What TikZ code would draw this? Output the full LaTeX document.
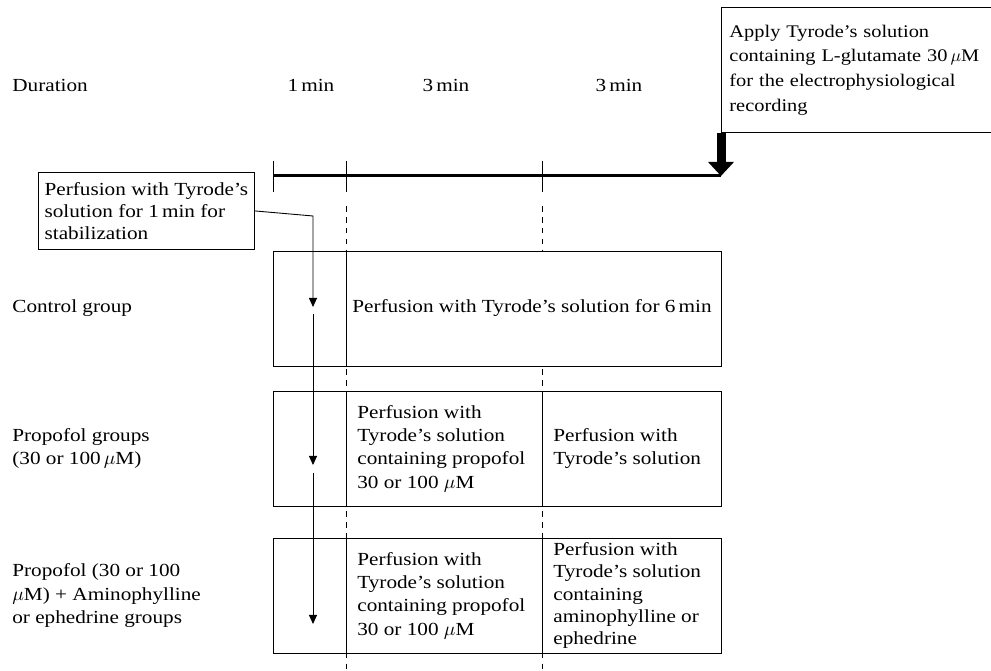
\documentclass[tikz,border=0pt]{standalone}
\usepackage{fontspec}
\setmainfont{Liberation Serif}[FakeStretch=1.15]
\usepackage{tikz}
\usetikzlibrary{arrows.meta, calc}

\tikzset{
 rowbox/.style={draw, fill=white, line width=0.5pt, minimum width=8.96cm, minimum height=2.3cm, inner sep=0pt},
 celltext/.style={anchor=west, align=left, inner sep=0.1cm},
 grouptext/.style={anchor=west, align=left, inner sep=0.1cm},
 notebox/.style={draw, line width=0.5pt, align=left, anchor=north west},
 divider/.style={line width=0.5pt},
 gridline/.style={line width=0.5pt, dash pattern=on 3.2pt off 3pt},
 pointer/.style={line width=0.5pt, -{Triangle[width=0.16cm, length=0.18cm]}}
}

\begin{document}
\begin{tikzpicture}[x=0.02cm, y=-0.02cm, font=\fontsize{10.5}{13.3}\selectfont]
 \clip (0,0) rectangle (991,671);

 % time axis
 \coordinate (T0) at (273,176);
 \coordinate (T1) at (346,176);
 \coordinate (T2) at (542,176);
 \coordinate (T3) at (721,176);

 \node[grouptext] (dur) at (7,85) {Duration};
 \node (min1) at (311,85) {1\,min};
 \node (min2) at (446,85) {3\,min};
 \node (min3) at (619,85) {3\,min};

 \draw[gridline] ($(T1)+(0,30)$) -- (346,671);
 \draw[gridline] ($(T2)+(0,30)$) -- (542,671);

 \draw[line width=1.7pt] (T0) -- (T3);
 \foreach \t in {T0,T1,T2}
  \draw[divider] ($(\t)+(0,-15)$) -- ($(\t)+(0,16)$);

 % group rows
 \node[rowbox] (ctrl) at (497,308.5) {};
 \node[rowbox] (prop) at (497,448.5) {};
 \node[rowbox] (amin) at (497,595.5) {};

 \foreach \r/\c in {ctrl/T1, prop/T1, prop/T2, amin/T1, amin/T2}
  \draw[divider] (\r.north -| \c) -- (\r.south -| \c);

 \node[grouptext] (g1) at (7,308.5) {Control group};
 \node[grouptext] (g2) at (7,448.5) {Propofol groups\\ (30 or 100\,$\mu$M)};
 \node[grouptext] (g3) at (7,595.5) {Propofol (30 or 100\\$\mu$M) + Aminophylline\\or ephedrine groups};

 \node[celltext] (c1) at (347,308.5) {Perfusion with Tyrode's solution for 6\,min};
 \node[celltext] (c2a) at (352,448.5) {Perfusion with\\Tyrode's solution\\containing propofol\\30 or 100 $\mu$M};
 \node[celltext] (c2b) at (548,448.5) {Perfusion with\\Tyrode's solution};
 \node[celltext] (c3a) at (352,595.5) {Perfusion with\\Tyrode's solution\\containing propofol\\30 or 100 $\mu$M};
 \node[celltext, font=\fontsize{10.5}{12.6}\selectfont] (c3b) at (548,595.5) {Perfusion with\\Tyrode's solution\\containing\\aminophylline or\\ephedrine};

 % notes
 \node[notebox, minimum width=4.32cm, minimum height=1.54cm, font=\fontsize{10.5}{12.4}\selectfont] (stab) at (38,172) {Perfusion with Tyrode's\\solution for 1\,min for\\stabilization};
 \node[notebox, text width=5.8cm, minimum height=2.5cm, inner xsep=0.16cm, font=\fontsize{10.1}{14}\selectfont] (glu) at (721,7) {Apply Tyrode's solution\\containing L-glutamate 30\,$\mu$M\\for the electrophysiological\\recording};

 \draw[line width=0.18cm, -{Triangle[width=0.5cm, length=0.28cm]}] (glu.south west) -- (T3);

 % stabilization pointer
 \coordinate (bend) at (313,216);
 \coordinate (P1) at (313,307);
 \coordinate (P2) at (313,314);
 \coordinate (P3) at (313,465);
 \coordinate (P4) at (313,473);
 \coordinate (P5) at (313,624);
 \draw[pointer] (stab.east) -- (bend) -- (P1);
 \draw[pointer] (P2) -- (P3);
 \draw[pointer] (P4) -- (P5);
\end{tikzpicture}
\end{document}
